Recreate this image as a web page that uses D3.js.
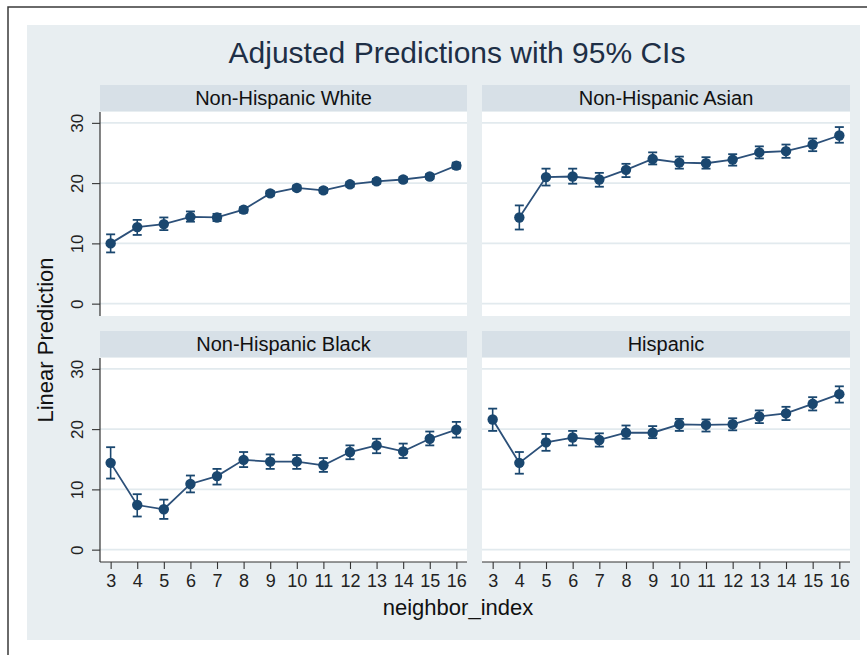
<!DOCTYPE html>
<html>
<head>
<meta charset="utf-8">
<script src="https://cdn.jsdelivr.net/npm/d3@7"></script>
<style>
  html, body { margin: 0; padding: 0; background: #ffffff; }
  svg { display: block; font-family: "Liberation Sans", Arial, sans-serif; }
</style>
</head>
<body>
<svg id="chart" width="867" height="655"></svg>
<script>
// ---- data ----
const neighborIndex = [3, 4, 5, 6, 7, 8, 9, 10, 11, 12, 13, 14, 15, 16];
const panelTitles = ["Non-Hispanic White", "Non-Hispanic Asian", "Non-Hispanic Black", "Hispanic"];
const yTicks = [0, 10, 20, 30];

const whiteEst = [10.0, 12.7, 13.2, 14.4, 14.3, 15.6, 18.3, 19.2, 18.8, 19.8, 20.3, 20.6, 21.1, 22.9];
const whiteLo  = [8.5, 11.4, 12.2, 13.6, 13.7, 15.1, 17.9, 18.8, 18.4, 19.4, 19.9, 20.2, 20.7, 22.4];
const whiteHi  = [11.5, 13.9, 14.3, 15.3, 14.9, 16.0, 18.7, 19.6, 19.2, 20.2, 20.7, 21.0, 21.5, 23.4];

const asianEst = [null, 14.3, 21.0, 21.1, 20.6, 22.2, 24.0, 23.4, 23.3, 23.9, 25.1, 25.3, 26.4, 27.9];
const asianLo  = [null, 12.3, 19.6, 19.9, 19.4, 21.0, 23.1, 22.4, 22.4, 22.9, 24.1, 24.2, 25.3, 26.7];
const asianHi  = [null, 16.3, 22.4, 22.4, 21.7, 23.2, 25.1, 24.4, 24.3, 24.8, 26.1, 26.4, 27.4, 29.3];

const blackEst = [14.4, 7.4, 6.7, 10.9, 12.2, 14.9, 14.6, 14.6, 14.0, 16.2, 17.3, 16.3, 18.4, 19.9];
const blackLo  = [11.8, 5.5, 5.1, 9.5, 10.8, 13.7, 13.4, 13.4, 12.9, 15.0, 16.0, 15.2, 17.3, 18.6];
const blackHi  = [17.0, 9.2, 8.3, 12.3, 13.4, 16.2, 15.8, 15.7, 15.2, 17.3, 18.4, 17.6, 19.6, 21.2];

const hispEst = [21.6, 14.4, 17.8, 18.6, 18.2, 19.4, 19.4, 20.8, 20.7, 20.8, 22.1, 22.6, 24.2, 25.8];
const hispLo  = [19.7, 12.6, 16.4, 17.3, 17.1, 18.4, 18.5, 19.7, 19.6, 19.8, 21.0, 21.5, 23.1, 24.4];
const hispHi  = [23.4, 16.2, 19.2, 19.7, 19.3, 20.6, 20.5, 21.7, 21.6, 21.8, 23.1, 23.7, 25.3, 27.1];

const seriesEst = [whiteEst, asianEst, blackEst, hispEst];
const seriesLo = [whiteLo, asianLo, blackLo, hispLo];
const seriesHi = [whiteHi, asianHi, blackHi, hispHi];

// ---- layout ----
const svg = d3.select("#chart");
const navy = "#1a476f";
const bgCol = "#e8eef1";
const headCol = "#d7e0e7";
const gridCol = "#e2eaee";

// outer frame (extends past right and bottom edges)
svg.append("path").attr("d", "M8,700V7H900").attr("fill", "none")
  .attr("stroke", "#3a3a3a").attr("stroke-width", 1.5);
// graph region
svg.append("rect").attr("x", 27).attr("y", 25).attr("width", 833).attr("height", 615).attr("fill", bgCol);

svg.append("text").attr("x", 457).attr("y", 63).attr("text-anchor", "middle")
  .attr("font-size", 30).attr("fill", "#1e2f46").text("Adjusted Predictions with 95% CIs");

svg.append("text").attr("transform", "translate(53,340) rotate(-90)").attr("text-anchor", "middle")
  .attr("font-size", 22).attr("fill", "#111").text("Linear Prediction");

svg.append("text").attr("x", 458).attr("y", 615).attr("text-anchor", "middle")
  .attr("font-size", 22).attr("fill", "#111").text("neighbor_index");

const colX = [[100, 467], [482, 850]];
const rowY = [{head: [85, 111], plot: [112, 316]}, {head: [331, 357], plot: [358, 562]}];
const yDomain = [-2.05, 31.8];
const xDomain = [2.6, 16.4];

panelTitles.forEach((title, i) => {
  const c = i % 2, r = Math.floor(i / 2);
  const [x0, x1] = colX[c];
  const row = rowY[r];
  const x = d3.scaleLinear().domain(xDomain).range([x0, x1]);
  const y = d3.scaleLinear().domain(yDomain).range([row.plot[1], row.plot[0]]);

  // header
  svg.append("rect").attr("x", x0).attr("y", row.head[0]).attr("width", x1 - x0)
    .attr("height", row.head[1] - row.head[0]).attr("fill", headCol);
  svg.append("text").attr("x", (x0 + x1) / 2).attr("y", row.head[0] + 19.5)
    .attr("text-anchor", "middle").attr("font-size", 20).attr("fill", "#111").text(title);

  // plot region
  svg.append("rect").attr("x", x0).attr("y", row.plot[0]).attr("width", x1 - x0)
    .attr("height", row.plot[1] - row.plot[0]).attr("fill", "#ffffff");

  // grid
  const g = svg.append("g");
  g.selectAll("line.grid").data(yTicks).join("line")
    .attr("x1", x0).attr("x2", x1).attr("y1", d => y(d)).attr("y2", d => y(d))
    .attr("stroke", gridCol).attr("stroke-width", 1.6);

  // y axis on left column
  if (c === 0) {
    const ya = svg.append("g").attr("transform", `translate(${x0},0)`)
      .call(d3.axisLeft(y).tickValues(yTicks).tickSize(8).tickPadding(4).tickFormat(d3.format("d")));
    ya.select(".domain").attr("d", `M0,${row.plot[0]}V${row.plot[1]}`).attr("stroke", "#333").attr("stroke-width", 1.2);
    ya.selectAll(".tick line").attr("stroke", "#333").attr("stroke-width", 1.1);
    ya.selectAll(".tick text").attr("font-size", 17).attr("fill", "#222")
      .attr("x", null).attr("dy", null).attr("text-anchor", "middle")
      .attr("transform", "translate(-17,0) rotate(-90)").attr("y", 0);
  }
  // x axis on bottom row
  if (r === 1) {
    const xa = svg.append("g").attr("transform", `translate(0,${row.plot[1]})`)
      .call(d3.axisBottom(x).tickValues(neighborIndex).tickSize(7).tickPadding(4).tickFormat(d3.format("d")));
    xa.select(".domain").attr("d", `M${x0},0H${x1}`).attr("stroke", "#333").attr("stroke-width", 1.2);
    xa.selectAll(".tick line").attr("stroke", "#333").attr("stroke-width", 1.1);
    xa.selectAll(".tick text").attr("font-size", 18).attr("fill", "#222").attr("dy", "0.75em");
  }

  const est = seriesEst[i], lo = seriesLo[i], hi = seriesHi[i];
  const pts = neighborIndex.map((v, k) => ({x: v, e: est[k], lo: lo[k], hi: hi[k]})).filter(d => d.e !== null);

  const line = d3.line().x(d => x(d.x)).y(d => y(d.e));
  g.append("path").datum(pts).attr("d", line).attr("fill", "none")
    .attr("stroke", "#2c5079").attr("stroke-width", 1.8);

  const cap = 4.5;
  const ci = g.selectAll("g.ci").data(pts).join("g");
  ci.append("line").attr("x1", d => x(d.x)).attr("x2", d => x(d.x))
    .attr("y1", d => y(d.lo)).attr("y2", d => y(d.hi)).attr("stroke", navy).attr("stroke-width", 1.6);
  ci.append("line").attr("x1", d => x(d.x) - cap).attr("x2", d => x(d.x) + cap)
    .attr("y1", d => y(d.lo)).attr("y2", d => y(d.lo)).attr("stroke", navy).attr("stroke-width", 1.8);
  ci.append("line").attr("x1", d => x(d.x) - cap).attr("x2", d => x(d.x) + cap)
    .attr("y1", d => y(d.hi)).attr("y2", d => y(d.hi)).attr("stroke", navy).attr("stroke-width", 1.8);

  g.selectAll("circle").data(pts).join("circle")
    .attr("cx", d => x(d.x)).attr("cy", d => y(d.e)).attr("r", 5.2).attr("fill", navy);
});
</script>
</body>
</html>
